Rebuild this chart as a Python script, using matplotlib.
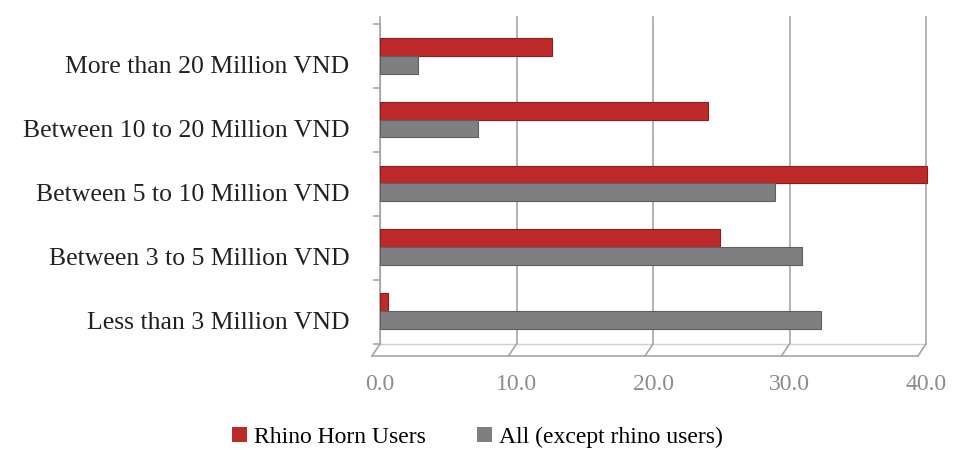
import matplotlib
matplotlib.use("Agg")
import matplotlib.pyplot as plt
from matplotlib.transforms import ScaledTranslation

categories = ["Less than 3 Million VND", "Between 3 to 5 Million VND",
              "Between 5 to 10 Million VND", "Between 10 to 20 Million VND",
              "More than 20 Million VND"]
rhino_users = [0.6, 24.9, 40.1, 24.0, 12.6]
all_except = [32.3, 30.9, 28.9, 7.2, 2.8]
series_names = ["Rhino Horn Users", "All (except rhino users)"]
xticks = [0, 10, 20, 30, 40]
xtick_labels = ["0.0", "10.0", "20.0", "30.0", "40.0"]

red = "#BE2A2A"
grey = "#7E7F81"
axis_grey = "#A6A6A6"

plt.rcParams['font.family'] = ['Liberation Serif', 'DejaVu Serif']

fig = plt.figure(figsize=(9.55, 4.5), dpi=100)
ax = fig.add_axes([0.398, 0.236, 0.576, 0.71])

h = 0.28
ypos = list(range(len(categories)))
ax.barh([y + h / 2 + 0.01 for y in ypos], rhino_users, height=h, color=red,
        edgecolor="#8E1C1C", linewidth=0.8, label=series_names[0], zorder=3)
ax.barh([y - h / 2 + 0.01 for y in ypos], all_except, height=h, color=grey,
        edgecolor="#5E5F61", linewidth=0.8, label=series_names[1], zorder=3)

ax.set_xlim(0, 40.3)
ax.set_ylim(-0.5, 4.5)
for s in ["top", "right", "bottom"]:
    ax.spines[s].set_visible(False)
ax.spines["left"].set_color(axis_grey)

# vertical gridlines with 3D-like floor diagonals
off = ScaledTranslation(-6 / 72, -9 / 72, fig.dpi_scale_trans)
for xv in xticks:
    ax.plot([xv, xv], [-0.5, 4.62], color=axis_grey, lw=1.2, zorder=1, clip_on=False)
    ax.annotate("", xy=(xv, -0.5), xycoords="data",
                xytext=(-6, -9), textcoords="offset points",
                arrowprops=dict(arrowstyle="-", color=axis_grey, lw=1.2,
                                shrinkA=0, shrinkB=0))
# floor front edge
ax.plot([0, 40], [-0.5, -0.5], color=axis_grey, lw=1.2,
        transform=ax.transData + off, clip_on=False)
ax.plot([0, 40], [-0.5, -0.5], color="#D0D0D0", lw=1.0, clip_on=False, zorder=1)

ax.set_yticks(ypos)
ax.set_yticklabels(categories, fontsize=18.5, color="#222222")
ax.set_yticks([y - 0.5 for y in range(len(categories) + 1)], minor=True)
ax.tick_params(axis="y", which="major", length=0, pad=22)
ax.tick_params(axis="y", which="minor", length=5, color=axis_grey, width=1.2)
label_shift = ScaledTranslation(0, -6 / 72, fig.dpi_scale_trans)
for lbl in ax.get_yticklabels():
    lbl.set_transform(lbl.get_transform() + label_shift)

ax.set_xticks(xticks)
ax.set_xticklabels(xtick_labels, fontsize=17, color="#8C8C8C")
ax.tick_params(axis="x", length=0, pad=22)

handles, labels = ax.get_legend_handles_labels()
leg = fig.legend(handles, labels, loc="center", bbox_to_anchor=(0.5, 0.028),
                 ncol=2, frameon=False, fontsize=17, handlelength=0.6,
                 handleheight=0.6, handletextpad=0.3, columnspacing=2.2)
for hnd in leg.legend_handles:
    hnd.set_edgecolor("none")

fig.savefig("out.png", dpi=100)
